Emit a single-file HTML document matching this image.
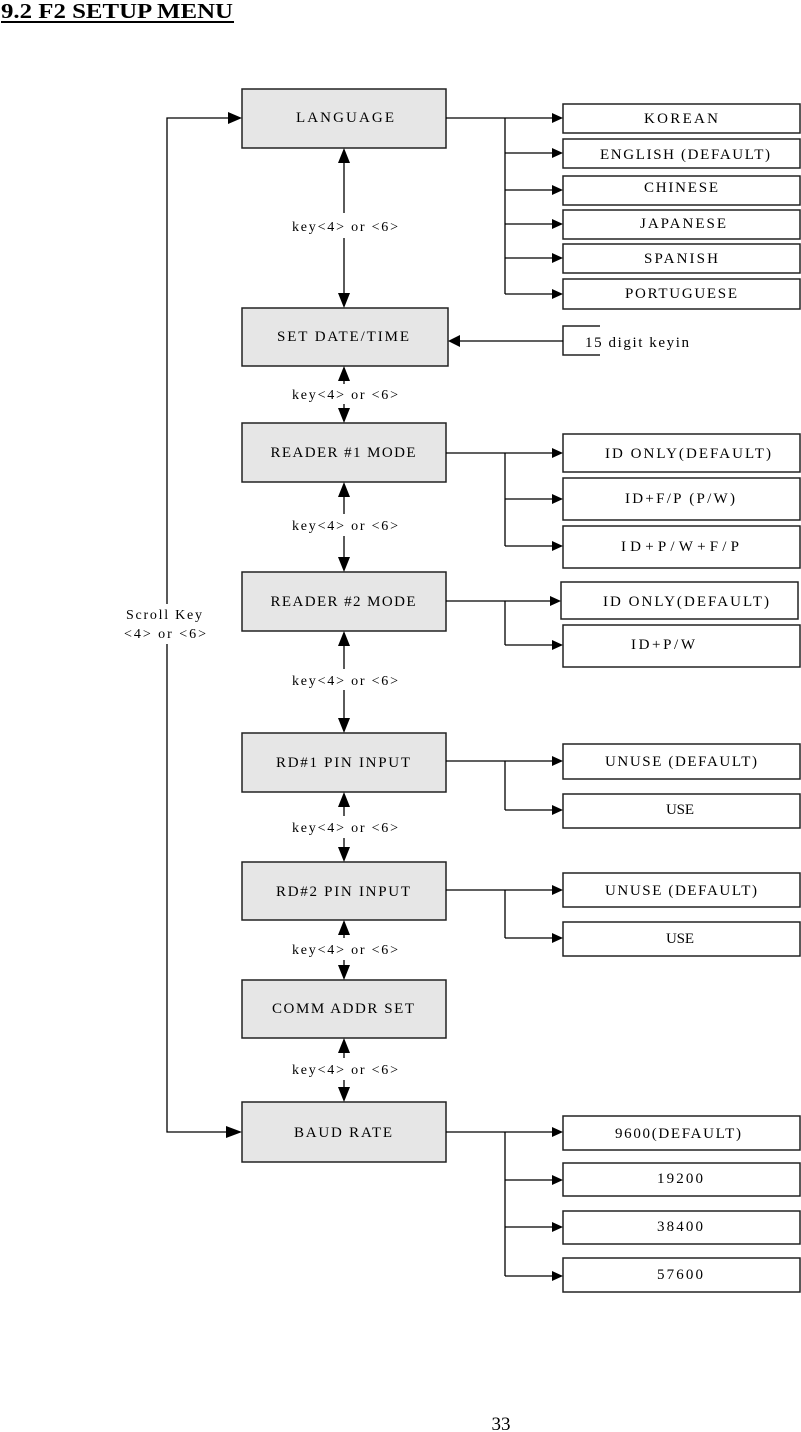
<!DOCTYPE html>
<html><head><meta charset="utf-8"><style>
html,body{margin:0;padding:0;background:#fff;}
svg{display:block;}
text{font-family:"Liberation Serif",serif;fill:#000;}
</style></head><body>
<svg width="801" height="1432" viewBox="0 0 801 1432" xmlns="http://www.w3.org/2000/svg">
<text x="1" y="18" font-size="21" font-weight="bold" textLength="232" lengthAdjust="spacingAndGlyphs">9.2 F2 SETUP MENU</text>
<line x1="1" y1="22" x2="234" y2="22" stroke="#000" stroke-width="2"/>

<g fill="#e6e6e6" stroke="#222" stroke-width="1.5">
<rect x="242" y="89" width="204" height="59"/>
<rect x="242" y="308" width="206" height="58"/>
<rect x="242" y="423" width="204" height="59"/>
<rect x="242" y="572" width="204" height="59"/>
<rect x="242" y="733" width="204" height="59"/>
<rect x="242" y="862" width="204" height="58"/>
<rect x="242" y="980" width="204" height="58"/>
<rect x="242" y="1102" width="204" height="60"/>
</g>
<g font-size="15" text-anchor="middle" lengthAdjust="spacingAndGlyphs">
<text x="345" y="122" textLength="98">LANGUAGE</text>
<text x="343" y="341" textLength="132">SET  DATE/TIME</text>
<text x="343" y="457" textLength="145">READER #1 MODE</text>
<text x="343" y="606" textLength="145">READER #2 MODE</text>
<text x="343" y="767" textLength="134">RD#1 PIN INPUT</text>
<text x="343" y="896" textLength="134">RD#2 PIN INPUT</text>
<text x="343" y="1013" textLength="142">COMM ADDR SET</text>
<text x="343" y="1137" textLength="98">BAUD RATE</text>
</g>

<g fill="#fff" stroke="#222" stroke-width="1.5">
<rect x="563" y="104" width="237" height="29"/>
<rect x="563" y="139" width="237" height="29"/>
<rect x="563" y="176" width="237" height="29"/>
<rect x="563" y="210" width="237" height="29"/>
<rect x="563" y="244" width="237" height="29"/>
<rect x="563" y="279" width="237" height="30"/>
<rect x="563" y="434" width="237" height="38"/>
<rect x="563" y="478" width="237" height="42"/>
<rect x="563" y="526" width="237" height="42"/>
<rect x="561" y="582" width="237" height="37"/>
<rect x="563" y="625" width="237" height="42"/>
<rect x="563" y="744" width="237" height="35"/>
<rect x="563" y="794" width="237" height="34"/>
<rect x="563" y="873" width="237" height="34"/>
<rect x="563" y="922" width="237" height="34"/>
<rect x="563" y="1116" width="237" height="34"/>
<rect x="563" y="1163" width="237" height="33"/>
<rect x="563" y="1211" width="237" height="33"/>
<rect x="563" y="1258" width="237" height="34"/>
</g>
<polyline points="600,326 563,326 563,355 600,355" fill="none" stroke="#222" stroke-width="1.5"/>
<g font-size="15" text-anchor="middle" lengthAdjust="spacingAndGlyphs">
<text x="681" y="123" textLength="74">KOREAN</text>
<text x="685" y="159" textLength="170">ENGLISH (DEFAULT)</text>
<text x="681" y="192" textLength="74">CHINESE</text>
<text x="683" y="228" textLength="86">JAPANESE</text>
<text x="681" y="263" textLength="74">SPANISH</text>
<text x="681" y="298" textLength="112">PORTUGUESE</text>
<text x="688" y="458" textLength="166">ID ONLY(DEFAULT)</text>
<text x="680" y="503" textLength="110">ID+F/P (P/W)</text>
<text x="680" y="551" textLength="118">ID+P/W+F/P</text>
<text x="686" y="606" textLength="166">ID ONLY(DEFAULT)</text>
<text x="663" y="649" textLength="64">ID+P/W</text>
<text x="681" y="766" textLength="152">UNUSE (DEFAULT)</text>
<text x="680" y="814" textLength="28">USE</text>
<text x="681" y="895" textLength="152">UNUSE (DEFAULT)</text>
<text x="680" y="943" textLength="28">USE</text>
<text x="678" y="1138" textLength="126">9600(DEFAULT)</text>
<text x="680" y="1183" textLength="46">19200</text>
<text x="680" y="1231" textLength="46">38400</text>
<text x="680" y="1279" textLength="46">57600</text>
<text x="585" y="347" text-anchor="start" textLength="104">15 digit keyin</text>
</g>

<g stroke="#000" stroke-width="1.3" fill="none">
<line x1="446" y1="118" x2="555" y2="118"/>
<line x1="505" y1="118" x2="505" y2="294"/>
<line x1="505" y1="153" x2="555" y2="153"/>
<line x1="505" y1="190" x2="555" y2="190"/>
<line x1="505" y1="224" x2="555" y2="224"/>
<line x1="505" y1="258" x2="555" y2="258"/>
<line x1="505" y1="294" x2="555" y2="294"/>
<line x1="458" y1="341" x2="563" y2="341"/>
<line x1="446" y1="453" x2="555" y2="453"/>
<line x1="505" y1="453" x2="505" y2="546"/>
<line x1="505" y1="499" x2="555" y2="499"/>
<line x1="505" y1="546" x2="555" y2="546"/>
<line x1="446" y1="601" x2="553" y2="601"/>
<line x1="505" y1="601" x2="505" y2="645"/>
<line x1="505" y1="645" x2="555" y2="645"/>
<line x1="446" y1="761" x2="555" y2="761"/>
<line x1="505" y1="761" x2="505" y2="810"/>
<line x1="505" y1="810" x2="555" y2="810"/>
<line x1="446" y1="890" x2="555" y2="890"/>
<line x1="505" y1="890" x2="505" y2="938"/>
<line x1="505" y1="938" x2="555" y2="938"/>
<line x1="446" y1="1132" x2="555" y2="1132"/>
<line x1="505" y1="1132" x2="505" y2="1276"/>
<line x1="505" y1="1180" x2="555" y2="1180"/>
<line x1="505" y1="1227" x2="555" y2="1227"/>
<line x1="505" y1="1276" x2="555" y2="1276"/>
<polyline points="234,118 167,118 167,604"/>
<polyline points="167,644 167,1132 232,1132"/>
<line x1="344" y1="162" x2="344" y2="213"/><line x1="344" y1="238" x2="344" y2="294"/>
<line x1="344" y1="380" x2="344" y2="384"/><line x1="344" y1="404" x2="344" y2="409"/>
<line x1="344" y1="496" x2="344" y2="514"/><line x1="344" y1="536" x2="344" y2="558"/>
<line x1="344" y1="645" x2="344" y2="669"/><line x1="344" y1="690" x2="344" y2="719"/>
<line x1="344" y1="806" x2="344" y2="816"/><line x1="344" y1="838" x2="344" y2="848"/>
<line x1="344" y1="934" x2="344" y2="938"/><line x1="344" y1="960" x2="344" y2="966"/>
<line x1="344" y1="1052" x2="344" y2="1058"/><line x1="344" y1="1080" x2="344" y2="1088"/>
</g>

<g fill="#000">
<polygon points="563,118 552,113 552,123"/>
<polygon points="563,153 552,148 552,158"/>
<polygon points="563,190 552,185 552,195"/>
<polygon points="563,224 552,219 552,229"/>
<polygon points="563,258 552,253 552,263"/>
<polygon points="563,294 552,289 552,299"/>
<polygon points="563,453 552,448 552,458"/>
<polygon points="563,499 552,494 552,504"/>
<polygon points="563,546 552,541 552,551"/>
<polygon points="561,601 550,596 550,606"/>
<polygon points="563,645 552,640 552,650"/>
<polygon points="563,761 552,756 552,766"/>
<polygon points="563,810 552,805 552,815"/>
<polygon points="563,890 552,885 552,895"/>
<polygon points="563,938 552,933 552,943"/>
<polygon points="563,1132 552,1127 552,1137"/>
<polygon points="563,1180 552,1175 552,1185"/>
<polygon points="563,1227 552,1222 552,1232"/>
<polygon points="563,1276 552,1271 552,1281"/>
<polygon points="448,341 460,335 460,347"/>
<polygon points="242,118 228,112 228,124"/>
<polygon points="242,1132 226,1126 226,1138"/>
<polygon points="344,148 338,163 350,163"/><polygon points="344,308 338,293 350,293"/>
<polygon points="344,366 338,381 350,381"/><polygon points="344,423 338,408 350,408"/>
<polygon points="344,482 338,497 350,497"/><polygon points="344,572 338,557 350,557"/>
<polygon points="344,631 338,646 350,646"/><polygon points="344,733 338,718 350,718"/>
<polygon points="344,792 338,807 350,807"/><polygon points="344,862 338,847 350,847"/>
<polygon points="344,920 338,935 350,935"/><polygon points="344,980 338,965 350,965"/>
<polygon points="344,1038 338,1053 350,1053"/><polygon points="344,1102 338,1087 350,1087"/>
</g>

<g font-size="14" text-anchor="middle" lengthAdjust="spacingAndGlyphs">
<text x="345" y="231" textLength="106">key&lt;4&gt; or &lt;6&gt;</text>
<text x="345" y="399" textLength="106">key&lt;4&gt; or &lt;6&gt;</text>
<text x="345" y="530" textLength="106">key&lt;4&gt; or &lt;6&gt;</text>
<text x="345" y="685" textLength="106">key&lt;4&gt; or &lt;6&gt;</text>
<text x="345" y="832" textLength="106">key&lt;4&gt; or &lt;6&gt;</text>
<text x="345" y="954" textLength="106">key&lt;4&gt; or &lt;6&gt;</text>
<text x="345" y="1074" textLength="106">key&lt;4&gt; or &lt;6&gt;</text>
<text x="164" y="619" textLength="76">Scroll Key</text>
<text x="165" y="638" textLength="82">&lt;4&gt; or &lt;6&gt;</text>
</g>
<text x="501" y="1430" font-size="19" text-anchor="middle">33</text>
</svg>
</body></html>
